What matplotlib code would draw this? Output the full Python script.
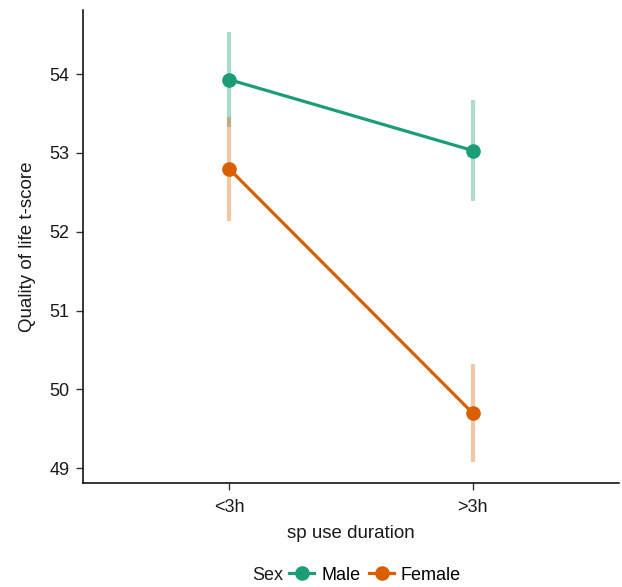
import matplotlib
matplotlib.use("Agg")
import matplotlib.pyplot as plt
from matplotlib.lines import Line2D

plt.rcParams['font.family'] = ['Liberation Sans', 'DejaVu Sans']

categories = ["<3h", ">3h"]
male_mean = [53.93, 53.03]
male_low = [53.33, 52.39]
male_high = [54.53, 53.67]
female_mean = [52.80, 49.70]
female_low = [52.14, 49.08]
female_high = [53.46, 50.32]
yticks = [49, 50, 51, 52, 53, 54]

green = "#1b9e77"
orange = "#d95f02"

fig = plt.figure(figsize=(6.22, 5.87), dpi=100)
ax = fig.add_axes([0.133, 0.1767, 0.862, 0.806])

x = list(range(1, len(categories) + 1))

for xm, lo, hi in zip(x, male_low, male_high):
    ax.plot([xm, xm], [lo, hi], color=green, alpha=0.37, lw=3.0, solid_capstyle='butt', zorder=1)
for xm, lo, hi in zip(x, female_low, female_high):
    ax.plot([xm, xm], [lo, hi], color=orange, alpha=0.35, lw=3.0, solid_capstyle='butt', zorder=1)

ax.plot(x, male_mean, color=green, lw=2.3, marker='o', ms=9.5, zorder=3)
ax.plot(x, female_mean, color=orange, lw=2.3, marker='o', ms=9.5, zorder=3)

ax.set_xlim(0.4, 2.6)
ax.set_ylim(48.81, 54.81)
ax.set_xticks(x)
ax.set_xticklabels(categories)
ax.set_yticks(yticks)
ax.tick_params(labelsize=13, length=5, width=1.0, color='#333333', labelcolor='#1a1a1a')
ax.tick_params(axis='x', pad=6.5)
ax.tick_params(axis='y', pad=4.5)

for s in ['top', 'right']:
    ax.spines[s].set_visible(False)
for s in ['left', 'bottom']:
    ax.spines[s].set_linewidth(1.1)
    ax.spines[s].set_color('black')

ax.set_xlabel("sp use duration", fontsize=13.5, labelpad=6, color='#1a1a1a')
ax.set_ylabel("Quality of life t-score", fontsize=13.5, labelpad=10, color='#1a1a1a')

handles = [Line2D([], [], color=green, lw=2.3, marker='o', ms=9.5),
           Line2D([], [], color=orange, lw=2.3, marker='o', ms=9.5)]
fig.text(0.406, 0.0204, "Sex", fontsize=13, ha='left', va='center', color='#1a1a1a')
fig.legend(handles, ["Male", "Female"], loc='center left', bbox_to_anchor=(0.465, 0.0204),
           ncol=2, frameon=False, fontsize=13, handlelength=1.38, handletextpad=0.38,
           columnspacing=0.5, borderaxespad=0, borderpad=0)

fig.savefig("out.png", dpi=100)
